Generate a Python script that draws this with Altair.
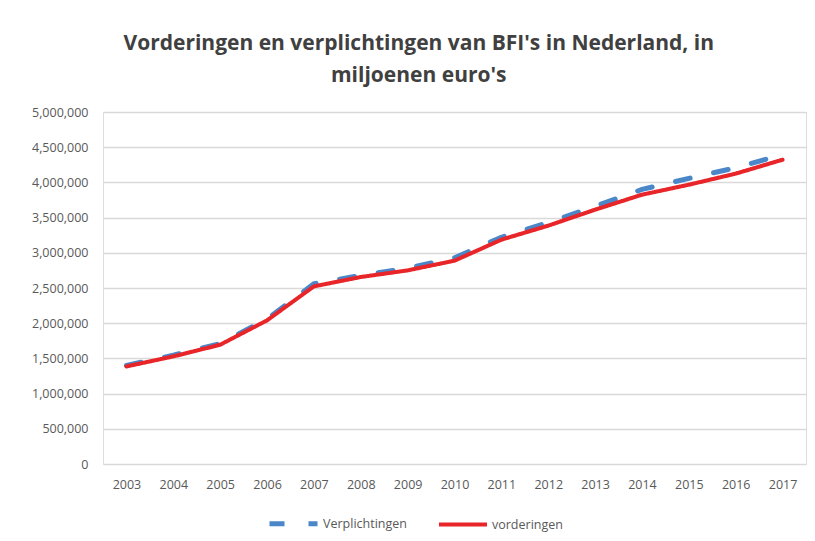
import altair as alt
import pandas as pd

years = [str(y) for y in range(2003, 2018)]
verplichtingen = [1400000, 1545000, 1710000, 2060000, 2560000, 2680000, 2780000, 2930000,
                  3220000, 3430000, 3660000, 3900000, 4057000, 4208000, 4395000]
vorderingen = [1386000, 1528000, 1694000, 2040000, 2523000, 2656000, 2750000, 2888000,
               3186000, 3385000, 3612000, 3825000, 3967000, 4124000, 4322000]
series_names = ["Verplichtingen", "vorderingen"]

rows = []
for i, y in enumerate(years):
    rows.append({"jaar": y, "reeks": series_names[0], "waarde": verplichtingen[i], "ord": 0})
    rows.append({"jaar": y, "reeks": series_names[1], "waarde": vorderingen[i], "ord": 1})
df = pd.DataFrame(rows)

FONT = "Open Sans"

chart = alt.Chart(df).mark_line(strokeCap="round", strokeJoin="round").encode(
    x=alt.X("jaar:O", title=None,
            axis=alt.Axis(labelAngle=0, ticks=False, domain=False, grid=False,
                          labelPadding=14, labelFontSize=12.5, labelColor="#595959",
                          labelFont=FONT)),
    y=alt.Y("waarde:Q", title=None,
            scale=alt.Scale(domain=[0, 5000000], nice=False),
            axis=alt.Axis(values=list(range(0, 5000001, 500000)), format=",d",
                          ticks=False, domain=False, grid=True, gridColor="#d9d9d9",
                          gridWidth=1.3, labelPadding=15, labelFontSize=12.5,
                          labelColor="#595959", labelFont=FONT)),
    color=alt.Color("reeks:N", scale=alt.Scale(domain=series_names, range=["#4a86c8", "#e8262a"]),
                    legend=alt.Legend(title=None, orient="none", direction="horizontal",
                                      legendX=164, legendY=385, symbolType="stroke",
                                      symbolSize=2304, symbolStrokeWidth=5,
                                      labelFont=FONT, labelFontSize=12.5, labelColor="#595959",
                                      labelOffset=3, columnPadding=24)),
    strokeDash=alt.StrokeDash("reeks:N", scale=alt.Scale(domain=series_names, range=[[15, 24], [1, 0]]),
                              legend=None),
    strokeWidth=alt.StrokeWidth("reeks:N", scale=alt.Scale(domain=series_names, range=[5, 4]),
                                legend=None),
    order=alt.Order("ord:Q"),
    detail="reeks:N",
).properties(
    width=703,
    height=352,
    title=alt.TitleParams(
        text=["Vorderingen en verplichtingen van BFI's in Nederland, in", "miljoenen euro's"],
        anchor="middle", frame="bounds", fontSize=21, lineHeight=32, font=FONT,
        fontWeight="bold", color="#404040", offset=20),
    autosize=alt.AutoSizeParams(type="none"),
    padding={"left": 95, "top": 104, "right": 1, "bottom": 69},
).configure_view(stroke=None).configure(background="white")

chart.save("out.html", embed_options={"renderer": "svg", "actions": False})
